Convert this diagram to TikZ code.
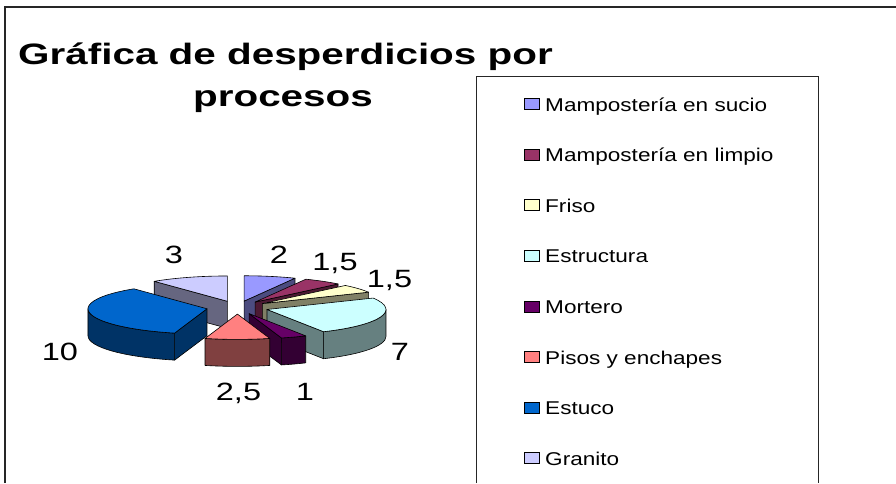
\documentclass[tikz,border=0pt]{standalone}
\usepackage{fontspec}
\setmainfont{Liberation Sans}
\newfontfamily\titlefont[FakeStretch=1.37]{Liberation Sans}
\newfontfamily\legfont[FakeStretch=1.22]{Liberation Sans}
\newfontfamily\lblfont[FakeStretch=1.3]{Liberation Sans}
\definecolor{cSucio}{HTML}{9999FF}
\definecolor{cLimpio}{HTML}{993366}
\definecolor{cFriso}{HTML}{FFFFCC}
\definecolor{cEstructura}{HTML}{CCFFFF}
\definecolor{cMortero}{HTML}{660066}
\definecolor{cPisos}{HTML}{FF8080}
\definecolor{cEstuco}{HTML}{0066CC}
\definecolor{cGranito}{HTML}{CCCCFF}
\def\pieCx{237.4}
\def\pieCy{-307.5}
\def\pieRx{119}
\def\pieRy{25.3}
\def\pieE{31}
\def\pieH{27}
\newcommand\pieApex[3]{%
  \pgfmathsetmacro\pieMid{(#2+#3)/2}%
  \coordinate (#1) at ({\pieCx+\pieE*cos(\pieMid)},{\pieCy+\pieE*\pieRy/\pieRx*sin(\pieMid)});%
}
\newcommand\pieRad[3]{%
  \draw[edge,fill=#3!50!black] (#1) -- ++({\pieRx*cos(#2)},{\pieRy*sin(#2)}) -- ++(0,-\pieH) -- ++({-\pieRx*cos(#2)},{-\pieRy*sin(#2)}) -- cycle;%
}
\newcommand\pieOuter[4]{%
  \draw[edge,fill=#4!50!black] (#1) ++({\pieRx*cos(#2)},{\pieRy*sin(#2)}) arc[start angle=#2,end angle=#3,x radius=\pieRx,y radius=\pieRy] -- ++(0,-\pieH) arc[start angle=#3,end angle=#2,x radius=\pieRx,y radius=\pieRy] -- cycle;%
}
\newcommand\pieTop[4]{%
  \draw[edge,fill=#4] (#1) -- ++({\pieRx*cos(#2)},{\pieRy*sin(#2)}) arc[start angle=#2,end angle=#3,x radius=\pieRx,y radius=\pieRy] -- cycle;%
}
\begin{document}
\begin{tikzpicture}[x=1pt,y=1pt,
  edge/.style={draw=black,line width=0.6pt,line join=round},
  frame/.style={draw=black!85,line width=1.4pt},
  legbox/.style={draw=black!85,line width=1pt},
  swatch/.style={draw=black,line width=0.6pt},
  lbl/.style={anchor=base,inner sep=0pt,font=\lblfont\fontsize{25}{30}\selectfont},
  legtxt/.style={anchor=base west,inner sep=0pt,font=\legfont\fontsize{18.5}{22}\selectfont},
  ttl/.style={anchor=base,inner sep=0pt,font=\titlefont\bfseries\fontsize{29.5}{35}\selectfont}]
\useasboundingbox (0,0) rectangle (896,-483);
\fill[white] (0,0) rectangle (896,-483);
% outer frame
\draw[frame] (5,-483) -- (5,-7) -- (896,-7);
% title
\node[ttl] (t1) at (285.5,-64) {Gráfica de desperdicios por};
\node[ttl] (t2) at (283,-106) {procesos};
% legend box
\draw[legbox] (476.7,-483) -- (476.7,-76) -- (818,-76) -- (818,-483);
% pie apexes
\pieApex{G}{90}{127.895}
\pieApex{S}{64.737}{90}
\pieApex{L}{45.789}{64.737}
\pieApex{F}{26.842}{45.789}
\pieApex{U}{127.895}{254.211}
\pieApex{T}{-61.579}{26.842}
\pieApex{M}{-74.211}{-61.579}
\pieApex{P}{-105.789}{-74.211}
% granito
\pieRad{G}{127.895}{cGranito}
\pieTop{G}{90}{127.895}{cGranito}
% sucio
\pieRad{S}{64.737}{cSucio}
\pieTop{S}{64.737}{90}{cSucio}
% limpio
\pieRad{L}{45.789}{cLimpio}
\pieTop{L}{45.789}{64.737}{cLimpio}
% friso
\pieRad{F}{26.842}{cFriso}
\pieTop{F}{26.842}{45.789}{cFriso}
% estuco
\pieRad{U}{254.211}{cEstuco}
\pieOuter{U}{180}{254.211}{cEstuco}
\pieTop{U}{127.895}{254.211}{cEstuco}
% estructura
\pieRad{T}{-61.579}{cEstructura}
\pieOuter{T}{-61.579}{0}{cEstructura}
\pieTop{T}{-61.579}{26.842}{cEstructura}
% mortero
\pieRad{M}{-74.211}{cMortero}
\pieOuter{M}{-74.211}{-61.579}{cMortero}
\pieTop{M}{-74.211}{-61.579}{cMortero}
% pisos
\pieOuter{P}{-105.789}{-74.211}{cPisos}
\pieTop{P}{-105.789}{-74.211}{cPisos}
% data labels
\node[lbl] (l10) at (60,-360) {10};
\node[lbl] (l7) at (400,-360) {7};
\node[lbl] (l3) at (174,-263) {3};
\node[lbl] (l2) at (279,-263) {2};
\node[lbl] (l15a) at (335,-270) {1,5};
\node[lbl] (l15b) at (389.5,-287) {1,5};
\node[lbl] (l25) at (238.5,-400) {2,5};
\node[lbl] (l1) at (305,-400) {1};
% legend entries
\foreach \nm/\col [count=\i from 0] in {Mampostería en sucio/cSucio,Mampostería en limpio/cLimpio,Friso/cFriso,Estructura/cEstructura,Mortero/cMortero,Pisos y enchapes/cPisos,Estuco/cEstuco,Granito/cGranito}{
  \pgfmathsetmacro\by{-111-50.6*\i}
  \draw[swatch,fill=\col] (524,\by+1.5) rectangle (539,\by+12.5);
  \node[legtxt] (leg\i) at (545,\by) {\nm};
}
\end{tikzpicture}
\end{document}
